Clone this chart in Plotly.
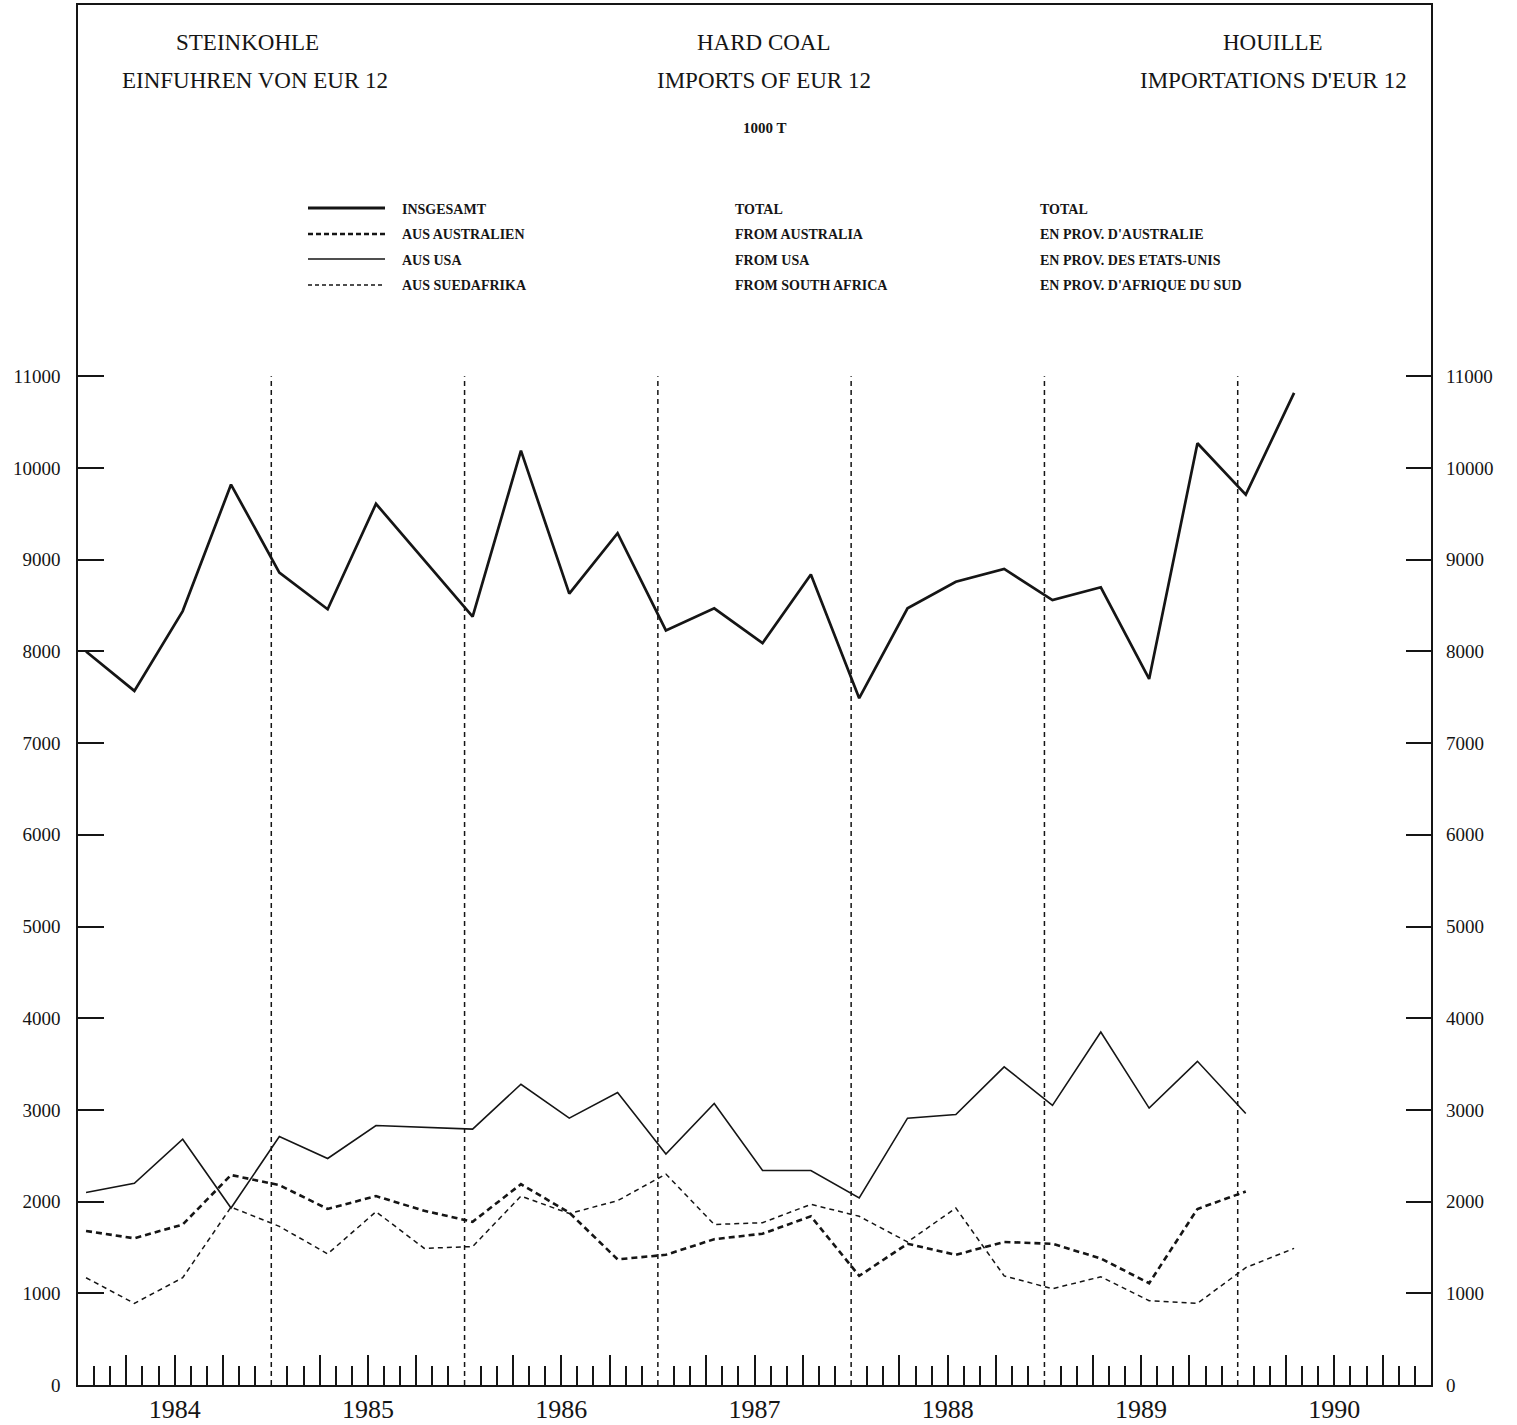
import plotly.graph_objects as go

# Quarterly values, 1000 t (first month of each quarter, 1984 Q1 onwards)
years = [1984, 1985, 1986, 1987, 1988, 1989, 1990]
quarter_months = [1, 4, 7, 10]

total = [8000, 7570, 8440, 9820, 8860, 8460, 9610, 9000, 8380, 10190,
         8630, 9290, 8230, 8470, 8090, 8840, 7490, 8470, 8760, 8900,
         8560, 8700, 7700, 10270, 9710, 10820]
australia = [1680, 1600, 1750, 2290, 2180, 1920, 2060, 1900, 1780, 2190,
             1880, 1370, 1420, 1590, 1650, 1840, 1190, 1540, 1420, 1560,
             1540, 1380, 1110, 1920, 2110]
usa = [2100, 2200, 2680, 1930, 2710, 2470, 2830, 2810, 2790, 3280,
       2910, 3190, 2520, 3070, 2340, 2340, 2040, 2910, 2950, 3470,
       3050, 3850, 3020, 3530, 2960]
south_africa = [1170, 890, 1170, 1940, 1730, 1430, 1890, 1490, 1510, 2060,
                1870, 2010, 2300, 1750, 1770, 1970, 1840, 1560, 1930, 1190,
                1050, 1180, 920, 890, 1280, 1490]

y_ticks = [0, 1000, 2000, 3000, 4000, 5000, 6000, 7000, 8000, 9000, 10000, 11000]

legend_de = ["INSGESAMT", "AUS AUSTRALIEN", "AUS USA", "AUS SUEDAFRIKA"]
legend_en = ["TOTAL", "FROM AUSTRALIA", "FROM USA", "FROM SOUTH AFRICA"]
legend_fr = ["TOTAL", "EN PROV. D'AUSTRALIE", "EN PROV. DES ETATS-UNIS", "EN PROV. D'AFRIQUE DU SUD"]

# x position = middle of the first month of each quarter
periods = [y + (m - 0.5) / 12 for y in years for m in quarter_months]

W, H = 1517, 1425
L, R, T, B = 78, 86, 5, 40
INK = "#151515"


def px(x):
    return (x - L) / (W - L - R)


def py(y):
    return (H - B - y) / (H - T - B)


fig = go.Figure()
fig.add_trace(go.Scatter(x=periods[:len(total)], y=total, mode="lines",
                         line=dict(color=INK, width=2.7)))
fig.add_trace(go.Scatter(x=periods[:len(australia)], y=australia, mode="lines",
                         line=dict(color=INK, width=2.6, dash="6px,4px")))
fig.add_trace(go.Scatter(x=periods[:len(usa)], y=usa, mode="lines",
                         line=dict(color=INK, width=1.6)))
fig.add_trace(go.Scatter(x=periods[:len(south_africa)], y=south_africa, mode="lines",
                         line=dict(color=INK, width=1.5, dash="5px,4px")))
# invisible trace to carry the right-hand axis
fig.add_trace(go.Scatter(x=[years[0]], y=[0], yaxis="y2", mode="lines",
                         line=dict(width=0), hoverinfo="skip"))

# dashed year separators
for yr in years[1:]:
    fig.add_shape(type="line", xref="x", yref="y", x0=yr, x1=yr, y0=0, y1=y_ticks[-1],
                  line=dict(color=INK, width=1.5, dash="5px,4px"))

# x ticks: long at quarters, short at months
major_vals, major_text, minor_vals = [], [], []
for yr in years:
    for q in (3, 6, 9):
        major_vals.append(yr + q / 12)
        major_text.append(str(yr) if q == 6 else "")
    for m in (1, 2, 4, 5, 7, 8, 10, 11):
        minor_vals.append(yr + m / 12)

tick_font = dict(family="Liberation Serif", size=19, color=INK)
title_font = dict(family="Liberation Serif", size=23, color=INK)
leg_font = dict(family="Liberation Serif", size=14, color=INK, weight="bold")

fig.update_layout(
    width=W, height=H,
    margin=dict(l=L, r=R, t=T, b=B, autoexpand=False),
    paper_bgcolor="white", plot_bgcolor="white",
    showlegend=False,
    xaxis=dict(range=[years[0], years[-1] + 1], showgrid=False, zeroline=False,
               showline=True, mirror=True, linecolor=INK, linewidth=1.6,
               tickmode="array", tickvals=major_vals, ticktext=major_text,
               ticks="inside", ticklen=30, tickwidth=1.5, tickcolor=INK,
               tickfont=dict(family="Liberation Serif", size=26, color=INK),
               minor=dict(tickmode="array", tickvals=minor_vals, ticks="inside",
                          ticklen=19, tickwidth=1.5, tickcolor=INK)),
    yaxis=dict(range=[0, 15050], showgrid=False, zeroline=False,
               showline=True, mirror=True, linecolor=INK, linewidth=1.6,
               tickmode="array", tickvals=y_ticks, ticktext=[str(v) for v in y_ticks],
               ticks="inside", ticklen=26, tickwidth=1.5, tickcolor=INK,
               tickfont=tick_font, ticklabelstandoff=12),
    yaxis2=dict(range=[0, 15050], overlaying="y", side="right", anchor="x",
                showgrid=False, zeroline=False, showline=False,
                tickmode="array", tickvals=y_ticks, ticktext=[str(v) for v in y_ticks],
                ticks="inside", ticklen=25, tickwidth=1.5, tickcolor=INK,
                tickfont=tick_font, ticklabelstandoff=14),
)

# titles
titles = [
    ("STEINKOHLE", 247, 42), ("EINFUHREN VON EUR 12", 255, 80),
    ("HARD COAL", 764, 42), ("IMPORTS OF EUR 12", 764, 80),
    ("HOUILLE", 1273, 42), ("IMPORTATIONS D'EUR 12", 1273, 80),
]
for text, x, y in titles:
    fig.add_annotation(text=text, x=px(x), y=py(y), xref="paper", yref="paper",
                       showarrow=False, xanchor="center", yanchor="middle", font=title_font)
fig.add_annotation(text="1000 T", x=px(764), y=py(128), xref="paper", yref="paper",
                   showarrow=False, xanchor="center", yanchor="middle",
                   font=dict(family="Liberation Serif", size=15, color=INK, weight="bold"))

# legend block
row_y = [208, 234, 259, 285]
styles = [dict(width=3), dict(width=2.4, dash="5px,3px"), dict(width=1.5), dict(width=1.3, dash="4px,3px")]
for i, ry in enumerate(row_y):
    fig.add_shape(type="line", xref="paper", yref="paper", x0=px(308), x1=px(385),
                  y0=py(ry), y1=py(ry), line=dict(color=INK, **styles[i]))
    for col_x, labels in ((400, legend_de), (733, legend_en), (1038, legend_fr)):
        fig.add_annotation(text=labels[i], x=px(col_x), y=py(ry + 1), xref="paper", yref="paper",
                           showarrow=False, xanchor="left", yanchor="middle", font=leg_font)

fig.write_html("out.html", config={"displayModeBar": False},
               post_script="document.body.style.margin = '0';")
